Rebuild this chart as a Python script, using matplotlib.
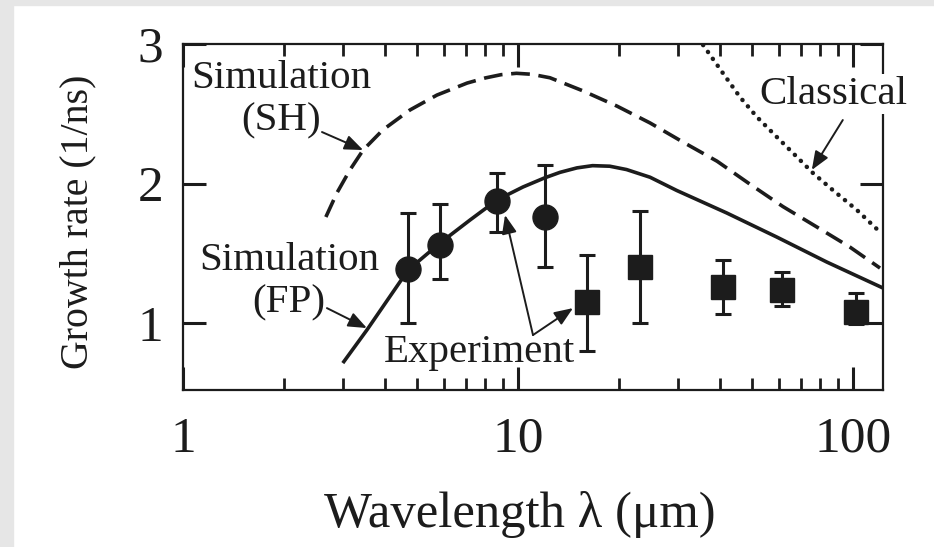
import matplotlib
matplotlib.use("Agg")
import matplotlib.pyplot as plt
from matplotlib.patches import Rectangle
from matplotlib.ticker import LogLocator, NullFormatter, FixedLocator

plt.rcParams['font.family'] = ['Liberation Serif', 'DejaVu Serif']
INK = '#1c1c1c'

# simulation curves (wavelength in um, growth rate in 1/ns)
fp_x = [3.00, 3.54, 4.70, 5.85, 7.19, 8.66, 10.35, 12.0, 13.35, 15.0, 16.7,
        18.8, 21.1, 24.8, 29.8, 42.0, 59.3, 83.6, 123.0]
fp_y = [0.713, 0.950, 1.380, 1.573, 1.738, 1.882, 1.975, 2.040, 2.080, 2.112,
        2.128, 2.124, 2.100, 2.045, 1.950, 1.789, 1.616, 1.437, 1.251]

sh_x = [2.67, 2.88, 3.15, 3.45, 3.95, 4.76, 5.73, 7.05, 8.0, 8.9, 9.9, 11.0,
        12.46, 15.6, 19.75, 24.8, 31.1, 39.3, 49.3, 61.8, 78.1, 97.9, 120.5]
sh_y = [1.760, 1.932, 2.097, 2.240, 2.384, 2.527, 2.634, 2.720, 2.757, 2.780,
        2.790, 2.783, 2.758, 2.665, 2.555, 2.434, 2.297, 2.160, 1.995, 1.835,
        1.688, 1.545, 1.394]

cl_x = [35.7, 40.9, 46.0, 51.7, 59.3, 68.1, 76.0, 87.1, 102.8, 120.5]
cl_y = [2.993, 2.792, 2.620, 2.477, 2.333, 2.190, 2.075, 1.953, 1.810, 1.652]

# experiment: circles and squares with asymmetric error bars
circ_x = [4.70, 5.85, 8.66, 12.04]
circ_y = [1.387, 1.559, 1.875, 1.760]
circ_lo = [1.000, 1.315, 1.652, 1.401]
circ_hi = [1.789, 1.853, 2.075, 2.133]

sq_x = [16.07, 23.1, 40.9, 61.4, 102.0]
sq_y = [1.151, 1.401, 1.258, 1.237, 1.079]
sq_lo = [0.799, 1.000, 1.065, 1.122, 0.990]
sq_hi = [1.487, 1.803, 1.452, 1.366, 1.215]

x_ticks = [1, 10, 100]
x_ticklabels = ['1', '10', '100']
y_ticks = [1, 2, 3]
y_ticklabels = ['1', '2', '3']

fig = plt.figure(figsize=(9.34, 5.47), dpi=100)
fig.patches.append(Rectangle((0, 0), 13 / 934, 1, transform=fig.transFigure,
                             color='#e6e6e6', zorder=0))
fig.patches.append(Rectangle((0, 1 - 5 / 547), 1, 5 / 547, transform=fig.transFigure,
                             color='#e6e6e6', zorder=0))

ax = fig.add_axes([183 / 934, 1 - 390 / 547, 700 / 934, 346 / 547])
ax.set_xscale('log')
ax.set_xlim(1, 123)
ax.set_ylim(0.52, 3.0)

ax.plot(fp_x, fp_y, color=INK, lw=2.6, solid_capstyle='butt',
        solid_joinstyle='round')
ax.plot(sh_x, sh_y, color=INK, lw=2.6, dashes=(5.2, 2.4))
ax.plot(cl_x, cl_y, color=INK, lw=3.2, dashes=(0.05, 1.85),
        dash_capstyle='round')

err_kw = dict(fmt='none', ecolor=INK, elinewidth=2.2, capsize=6, capthick=2.2)
ax.errorbar(circ_x, circ_y,
            yerr=[[y - lo for y, lo in zip(circ_y, circ_lo)],
                  [hi - y for y, hi in zip(circ_y, circ_hi)]], **err_kw)
ax.errorbar(sq_x, sq_y,
            yerr=[[y - lo for y, lo in zip(sq_y, sq_lo)],
                  [hi - y for y, hi in zip(sq_y, sq_hi)]], **err_kw)
ax.plot(circ_x, circ_y, 'o', ms=18, color=INK, mec=INK)
ax.plot(sq_x, sq_y, 's', ms=17, color=INK, mec=INK)

# axes styling
for sp in ax.spines.values():
    sp.set_linewidth(1.6)
    sp.set_color(INK)
ax.xaxis.set_major_locator(FixedLocator(x_ticks))
ax.set_xticklabels(x_ticklabels)
ax.xaxis.set_minor_locator(LogLocator(base=10, subs=range(2, 10)))
ax.xaxis.set_minor_formatter(NullFormatter())
ax.set_yticks(y_ticks)
ax.set_yticklabels(y_ticklabels)
ax.tick_params(which='both', direction='in', top=True, right=True,
               color=INK, labelcolor=INK, labelsize=37)
ax.tick_params(which='major', length=16.5, width=2.2)
ax.tick_params(which='minor', length=8.5, width=2.0)
ax.tick_params(axis='x', which='major', pad=19)
ax.tick_params(axis='y', which='major', pad=14)

ax.set_xlabel('Wavelength λ (μm)', fontsize=36.5, color=INK, va='center')
ax.xaxis.set_label_coords(0.481, -0.361)
ax.set_ylabel('Growth rate (1/ns)', fontsize=28.7, color=INK, va='center')
ax.yaxis.set_label_coords(-0.150, 0.486)

# labels and arrows
lbl = dict(fontsize=29.5, color=INK, ha='center', va='center', linespacing=1.2)
ax.text(1.96, 2.599, 'Simulation\n(SH)', **lbl)
ax.text(2.07, 1.294, 'Simulation\n(FP)', **lbl)
ax.text(87.2, 2.640, 'Classical', bbox=dict(fc='white', ec='none', pad=1),
        zorder=4, **lbl)
ax.text(7.70, 0.792, 'Experiment', **lbl)

arrow = dict(arrowstyle='-|>,head_length=0.75,head_width=0.3', color=INK,
             lw=1.4, shrinkA=0, shrinkB=0, mutation_scale=15)
ax.annotate('', xy=(3.45, 2.24), xytext=(2.60, 2.369), arrowprops=arrow)
ax.annotate('', xy=(3.54, 0.964), xytext=(2.69, 1.107), arrowprops=arrow)
ax.annotate('', xy=(75.4, 2.097), xytext=(93.3, 2.455), arrowprops=arrow)
ax.annotate('', xy=(9.15, 1.774), xytext=(11.09, 0.914), arrowprops=arrow)
ax.annotate('', xy=(14.6, 1.107), xytext=(11.09, 0.914), arrowprops=arrow)

fig.savefig('out.png', dpi=100)
